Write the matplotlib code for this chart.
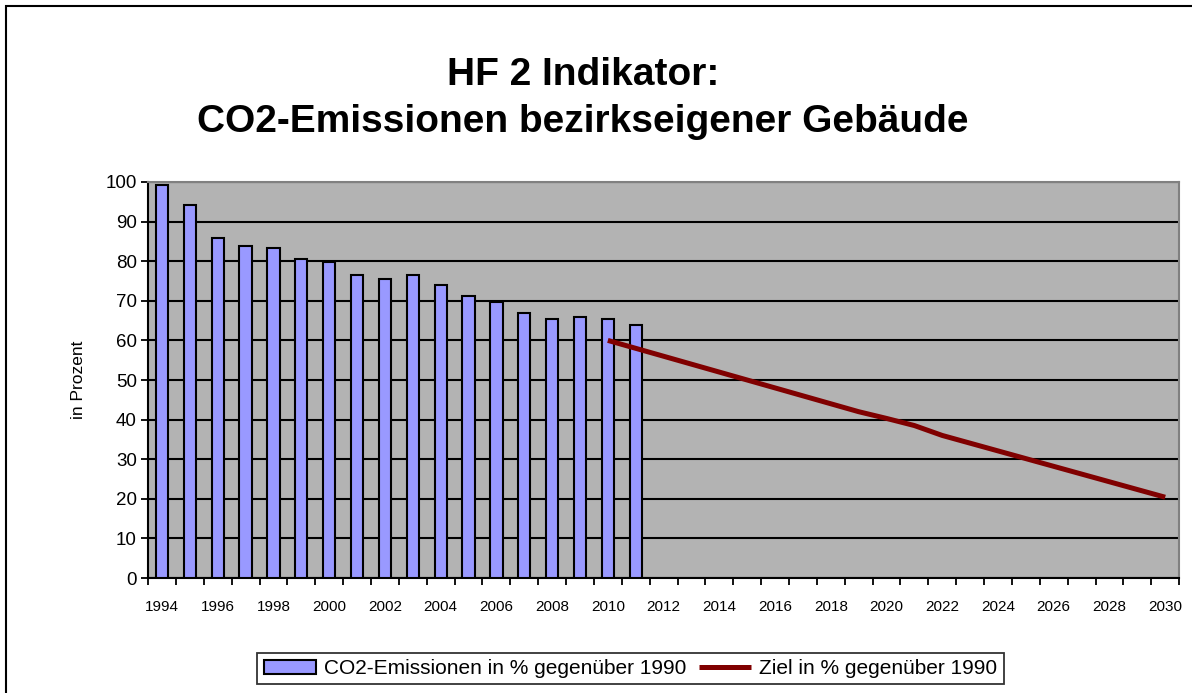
import matplotlib
matplotlib.use('Agg')
import matplotlib.pyplot as plt
from matplotlib.patches import Rectangle
from matplotlib.ticker import FixedLocator, NullFormatter

plt.rcParams['font.family'] = ['Liberation Sans', 'DejaVu Sans']

# data
years = list(range(1994, 2031))
bar_years = list(range(1994, 2012))
emissions = [99.2, 94.2, 85.9, 83.9, 83.4, 80.5, 79.9, 76.6, 75.6,
             76.6, 74.1, 71.2, 69.7, 66.8, 65.3, 65.8, 65.3, 63.9]
target_years = list(range(2010, 2031))
target = [60, 58, 56, 54, 52, 50, 48, 46, 44, 42, 40.3, 38.5, 36,
          34.05, 32.1, 30.15, 28.2, 26.25, 24.3, 22.35, 20.4]

title = 'HF 2 Indikator:\nCO2-Emissionen bezirkseigener Gebäude'
bar_label = 'CO2-Emissionen in % gegenüber 1990'
line_label = 'Ziel in % gegenüber 1990'

pos = {y: i for i, y in enumerate(years)}

fig = plt.figure(figsize=(11.92, 6.93), dpi=100)
ax = fig.add_axes([0.1242, 0.1659, 0.8650, 0.5715])
ax.set_facecolor('#b3b3b3')

bars = ax.bar([pos[y] for y in bar_years], emissions, width=0.44,
              color='#9999ff', edgecolor='black', linewidth=1.5, zorder=3,
              label=bar_label)
line, = ax.plot([pos[y] for y in target_years], target, color='#800000',
                linewidth=3.6, solid_capstyle='butt', zorder=4, label=line_label)

ax.set_xlim(-0.5, len(years) - 0.5)
ax.set_ylim(0, 100)
ax.set_yticks(range(0, 101, 10))
ax.yaxis.grid(True, color='black', linewidth=1.5, zorder=1)
ax.set_axisbelow(True)

# category ticks between years, labels every second year
ax.set_xticks(range(0, len(years), 2))
ax.set_xticklabels([str(y) for y in years[::2]], fontsize=11)
ax.tick_params(axis='x', which='major', length=0, pad=16)
ax.xaxis.set_minor_locator(FixedLocator([i - 0.5 for i in range(len(years) + 1)]))
ax.xaxis.set_minor_formatter(NullFormatter())
ax.tick_params(axis='x', which='minor', length=5, width=1.3, direction='out')
ax.tick_params(axis='y', labelsize=13.5, length=5, width=1.3, pad=3)

ax.spines['left'].set_color('black')
ax.spines['left'].set_linewidth(1.5)
ax.spines['bottom'].set_color('black')
ax.spines['bottom'].set_linewidth(1.5)
ax.spines['top'].set_color('#808080')
ax.spines['top'].set_linewidth(1.5)
ax.spines['right'].set_color('#808080')
ax.spines['right'].set_linewidth(1.5)

ax.set_ylabel('in Prozent', fontsize=12.5, labelpad=14)

fig.text(0.489, 0.858, title, ha='center', va='center', fontsize=28,
         fontweight='bold', linespacing=1.38)

leg = fig.legend([bars, line], [bar_label, line_label], loc='center',
                 bbox_to_anchor=(0.529, 0.035), ncol=2,
                 prop={'size': 15}, frameon=True,
                 fancybox=False, edgecolor='black',
                 handlelength=2.5, handleheight=0.6, columnspacing=0.6,
                 handletextpad=0.4, borderpad=0.3, borderaxespad=0)
leg.get_frame().set_linewidth(1.3)

fig.add_artist(Rectangle((0.005, -0.1), 1.2, 0.1 + 0.9913, fill=False,
                         edgecolor='black', linewidth=1.5,
                         transform=fig.transFigure))

fig.savefig('out.png', dpi=100, facecolor='white')
